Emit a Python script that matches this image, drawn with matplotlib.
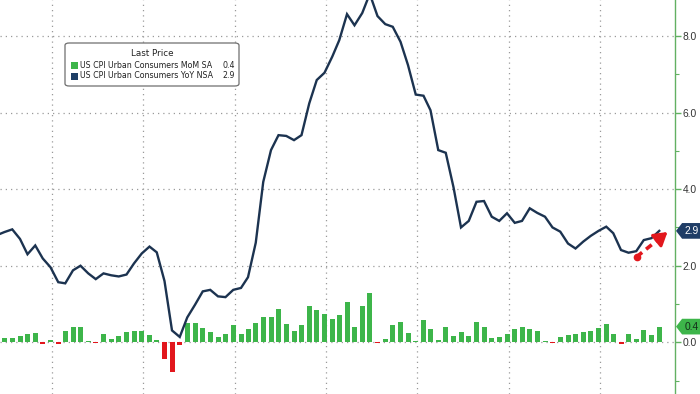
import matplotlib
matplotlib.use("Agg")
import matplotlib.pyplot as plt
import matplotlib.dates as mdates
import numpy as np
import pandas as pd
from matplotlib.patches import Polygon, FancyBboxPatch, Rectangle
from matplotlib.transforms import blended_transform_factory
from matplotlib.ticker import FixedLocator, NullFormatter

# ---------------- data (monthly, May 2018 .. Aug 2025) ----------------
start_month = "2018-05-31"
yoy_nsa = [
    2.80, 2.88, 2.95, 2.70, 2.30, 2.53, 2.19, 1.96,                              # 2018 May-Dec
    1.57, 1.54, 1.88, 2.00, 1.80, 1.65, 1.80, 1.75, 1.72, 1.77, 2.06, 2.32,      # 2019
    2.50, 2.35, 1.60, 0.31, 0.14, 0.65, 0.98, 1.33, 1.37, 1.20, 1.18, 1.37,      # 2020
    1.42, 1.70, 2.60, 4.19, 5.02, 5.41, 5.39, 5.28, 5.41, 6.24, 6.85, 7.04,      # 2021
    7.46, 7.89, 8.57, 8.28, 8.60, 9.10, 8.52, 8.31, 8.24, 7.85, 7.24, 6.47,      # 2022
    6.44, 6.06, 5.02, 4.95, 4.05, 3.00, 3.17, 3.67, 3.69, 3.28, 3.17, 3.37,      # 2023
    3.12, 3.17, 3.50, 3.38, 3.28, 3.00, 2.89, 2.58, 2.45, 2.63, 2.78, 2.91,      # 2024
    3.02, 2.85, 2.41, 2.34, 2.38, 2.67, 2.72, 2.91,                              # 2025 Jan-Aug
]
mom_sa = [
    0.20, 0.10, 0.10, 0.17, 0.22, 0.24, -0.05, 0.06,
    -0.05, 0.30, 0.39, 0.39, 0.03, -0.03, 0.23, 0.08, 0.17, 0.28, 0.29, 0.30,
    0.19, 0.06, -0.44, -0.77, -0.07, 0.51, 0.51, 0.37, 0.26, 0.13, 0.23, 0.45,
    0.23, 0.36, 0.50, 0.67, 0.67, 0.86, 0.48, 0.30, 0.44, 0.96, 0.84, 0.74,
    0.62, 0.71, 1.04, 0.39, 0.95, 1.30, -0.02, 0.08, 0.45, 0.53, 0.25, 0.03,
    0.57, 0.36, 0.06, 0.41, 0.17, 0.27, 0.17, 0.52, 0.41, 0.10, 0.13, 0.22,
    0.35, 0.41, 0.36, 0.30, 0.04, -0.02, 0.14, 0.18, 0.23, 0.26, 0.30, 0.37,
    0.47, 0.22, -0.05, 0.22, 0.09, 0.31, 0.20, 0.41,
]
series_names = ["US CPI Urban Consumers MoM SA", "US CPI Urban Consumers YoY NSA"]
last_mom_label = "0.4"
last_yoy_label = "2.9"
legend_title = "Last Price"
y_major = [0, 2, 4, 6, 8]
y_minor = [-1, 1, 3, 5, 7]
# annotation arrow anchors (date, value)
arrow_start = ("2025-05-27", 2.23)
arrow_end = ("2025-09-28", 2.88)

# ---------------- style ----------------
GREEN = "#3db54a"
RED = "#e2171d"
NAVY = "#1c3350"
TAG_NAVY = "#1f3d66"
AXIS_GREEN = "#62b062"
GRID = "#9a9a9a"

W, H = 700, 394
fig = plt.figure(figsize=(W / 100, H / 100), dpi=100)
ax = fig.add_axes([0, 0, 675 / W, 1])

months = pd.date_range(start_month, periods=len(yoy_nsa), freq="ME")
x = mdates.date2num(months) - 5

colors = [GREEN if v >= 0 else RED for v in mom_sa]
ax.bar(x, mom_sa, width=20, color=colors, zorder=2, linewidth=0)
ax.plot(x, yoy_nsa, color=NAVY, lw=1.7, zorder=3, solid_joinstyle="miter")

ax.set_ylim(-1.35, 8.94)
ax.set_xlim(mdates.datestr2num("2018-06-07"), mdates.datestr2num("2025-10-28"))

# grid
ax.xaxis.set_major_locator(mdates.YearLocator())
ax.tick_params(axis="x", which="both", bottom=False, labelbottom=False, top=False)
ax.grid(True, axis="x", which="major", linestyle=(0, (1, 3.2)), color=GRID, lw=0.9, zorder=0)
ax.yaxis.set_major_locator(FixedLocator(y_major))
ax.yaxis.set_minor_locator(FixedLocator(y_minor))
ax.grid(True, axis="y", which="major", linestyle=(0, (1, 3.2)), color=GRID, lw=0.9, zorder=0)

ax.yaxis.tick_right()
ax.yaxis.set_major_formatter(matplotlib.ticker.FormatStrFormatter("%.1f"))
ax.yaxis.set_minor_formatter(NullFormatter())
ax.tick_params(axis="y", which="major", length=4, width=1, color=AXIS_GREEN,
               labelcolor="#333333", labelsize=7.4, pad=1.5, direction="out")
ax.tick_params(axis="y", which="minor", length=3, width=0.8, color=AXIS_GREEN, direction="out")
for lab in ax.get_yticklabels():
    lab.set_fontfamily("Liberation Sans")
for s in ["left", "top", "bottom"]:
    ax.spines[s].set_visible(False)
ax.spines["right"].set_color(AXIS_GREEN)
ax.spines["right"].set_linewidth(1.0)

# value tags on right axis
btr = blended_transform_factory(ax.transAxes, ax.transData)
def tag(yv, text, face, tcolor):
    h = 0.205
    pts = [(1.0015, yv), (1.0105, yv + h), (1.05, yv + h), (1.05, yv - h), (1.0105, yv - h)]
    ax.add_patch(Polygon(pts, closed=True, facecolor=face, edgecolor="none",
                         transform=btr, clip_on=False, zorder=5))
    ax.text(1.024, yv, text, transform=btr, ha="center", va="center", fontsize=7.4,
            color=tcolor, family="Liberation Sans", clip_on=False, zorder=6)

tag(yoy_nsa[-1], last_yoy_label, TAG_NAVY, "white")
tag(mom_sa[-1], last_mom_label, GREEN, "#14301a")

# red dashed arrow
x0 = mdates.datestr2num(arrow_start[0]); y0 = arrow_start[1]
x1 = mdates.datestr2num(arrow_end[0]); y1 = arrow_end[1]
fx = x0 + (x1 - x0) * 0.7
fy = y0 + (y1 - y0) * 0.7
ax.plot([x0, fx], [y0, fy], color=RED, lw=2.6, linestyle=(0, (2.0, 1.4)), zorder=6,
        dash_capstyle="butt")
ax.plot([x0], [y0], "o", color=RED, ms=4.5, zorder=6)
ax.annotate("", xy=(x1, y1), xytext=(fx, fy),
            arrowprops=dict(arrowstyle="-|>,head_length=0.65,head_width=0.4", color=RED,
                            lw=2.2, shrinkA=0, shrinkB=0, mutation_scale=12), zorder=6)

# manual legend (figure pixel coordinates)
def fp(px, py):
    return (px / W, 1 - py / H)

bx, by = fp(65, 86)
box = FancyBboxPatch((bx, by), 174 / W, 43 / H,
                     boxstyle="round,pad=0,rounding_size=0.006",
                     transform=fig.transFigure, facecolor="white", edgecolor="#6e6e6e",
                     lw=0.9, zorder=10)
fig.patches.append(box)
lfont = dict(fontsize=5.7, color="#222222", family="DejaVu Sans", zorder=11)
fig.text(*fp(152, 54), legend_title, ha="center", va="center", transform=fig.transFigure,
         **dict(lfont, fontsize=6.3))
rows = [(65, GREEN, series_names[0], last_mom_label), (76, "#1e3f66", series_names[1], last_yoy_label)]
for py, col, name, val in rows:
    rx, ry = fp(71, py + 3.5)
    fig.patches.append(Rectangle((rx, ry), 7 / W, 7 / H, transform=fig.transFigure,
                                 facecolor=col, edgecolor="none", zorder=11))
    fig.text(*fp(80.5, py), name, ha="left", va="center", transform=fig.transFigure, **lfont)
    fig.text(*fp(235, py), val, ha="right", va="center", transform=fig.transFigure, **lfont)

fig.savefig("out.png", dpi=100)
